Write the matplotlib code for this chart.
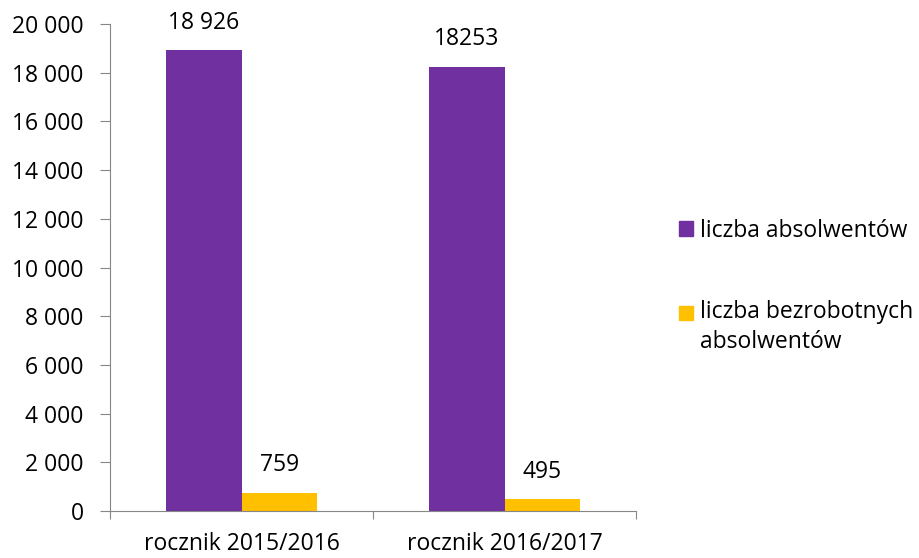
import matplotlib
matplotlib.use("Agg")
import matplotlib.pyplot as plt
from matplotlib.patches import Patch, Rectangle
from matplotlib.legend_handler import HandlerPatch
from matplotlib.ticker import FuncFormatter

plt.rcParams["font.family"] = ["Open Sans", "DejaVu Sans"]

categories = ["rocznik 2015/2016", "rocznik 2016/2017"]
graduates = [18926, 18253]
unemployed = [759, 495]
graduate_labels = ["18 926", "18253"]
unemployed_labels = ["759", "495"]
series_names = ["liczba absolwentów", "liczba bezrobotnych\nabsolwentów"]

PURPLE = "#7030A0"
YELLOW = "#FFC000"
SPINE = "#868686"
FS = 16.5

fig = plt.figure(figsize=(9.2, 5.58), dpi=100)
ax = fig.add_axes([0.1196, 0.0842, 0.5717, 0.8728])

x = list(range(len(categories)))
w = 0.286
bars1 = ax.bar([i - w / 2 for i in x], graduates, width=w, color=PURPLE)
bars2 = ax.bar([i + w / 2 for i in x], unemployed, width=w, color=YELLOW)

for bars, labels in ((bars1, graduate_labels), (bars2, unemployed_labels)):
    for b, lab in zip(bars, labels):
        ax.annotate(lab, (b.get_x() + b.get_width() / 2, b.get_height()),
                    xytext=(0, 11), textcoords="offset points",
                    ha="center", va="bottom", fontsize=FS)

ax.set_xlim(-0.5, 1.5)
ax.set_ylim(0, 20000)
ax.set_yticks(range(0, 20001, 2000))
ax.yaxis.set_major_formatter(FuncFormatter(lambda v, _: f"{int(v):,}".replace(",", " ")))
ax.set_xticks([-0.5, 0.5, 1.5])
ax.set_xticklabels([])
ax.set_xticks(x, minor=True)
ax.set_xticklabels(categories, minor=True)
ax.tick_params(axis="x", which="major", length=6, color=SPINE, direction="out")
ax.tick_params(axis="x", which="minor", length=0, pad=15, labelsize=FS)
ax.tick_params(axis="y", length=7, color=SPINE, labelsize=FS, pad=12)

for side in ("top", "right"):
    ax.spines[side].set_visible(False)
for side in ("left", "bottom"):
    ax.spines[side].set_color(SPINE)


def first_line_patch(legend, orig_handle, xdescent, ydescent, width, height, fontsize):
    # keep the square next to the first line of a two-line label
    return Rectangle((-xdescent, -ydescent + 10.8), width, height)


handles = [Patch(color=PURPLE), Patch(color=YELLOW)]
leg = fig.legend(handles, series_names, loc="upper left", bbox_to_anchor=(0.716, 0.645),
                 frameon=False, fontsize=FS, handlelength=0.6, handleheight=0.6,
                 handletextpad=0.3, labelspacing=2.5,
                 handler_map={handles[1]: HandlerPatch(patch_func=first_line_patch)})
for t in leg.get_texts():
    t.set_linespacing(1.35)

fig.savefig("out.png", dpi=100)
